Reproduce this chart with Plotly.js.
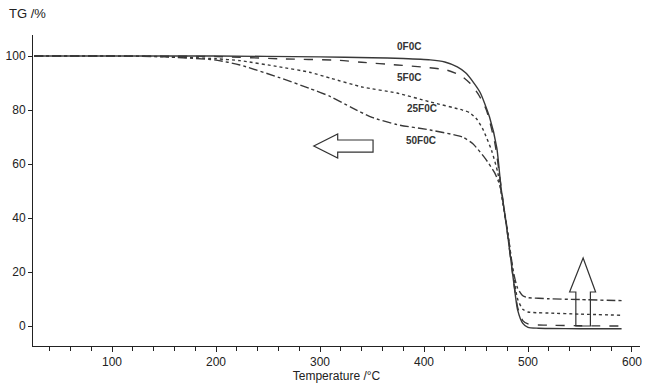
<!DOCTYPE html>
<html>
<head>
<meta charset="utf-8">
<script src="https://cdn.plot.ly/plotly-3.0.1.min.js"></script>
<style>html,body{margin:0;padding:0;background:#fff;}#chart{width:651px;height:386px;}</style>
</head>
<body>
<div id="chart"></div>
<script>
// Temperature (°C) and TG (%) for each sample
const t0 = [25, 100, 200, 300, 350, 380, 406, 420, 432, 440, 448, 454, 463, 470, 474, 480, 486, 490, 495, 500, 510, 520, 550, 590];
const tg0 = [100, 100, 100, 99.7, 99.4, 99.1, 98.6, 97.8, 96, 93.8, 90, 86.5, 77.4, 66, 51.5, 35, 17, 6, 1, -0.5, -0.8, -0.9, -1, -1];

const t5 = [25, 100, 200, 261, 319, 340, 374, 400, 422, 436, 444, 452, 460, 468, 474, 480, 486, 490, 495, 500, 510, 520, 550, 590];
const tg5 = [100, 100, 99.8, 99, 98.4, 97.7, 96.7, 95.9, 94.8, 92.6, 90, 86, 80, 68, 52, 35, 17, 7, 2, 0.8, 0.4, 0.3, 0.1, 0];

const t25 = [25, 100, 150, 200, 223, 261, 290, 310, 341, 374, 406, 437, 444, 451, 457, 465, 471, 476, 480, 486, 490, 495, 500, 510, 520, 550, 590];
const tg25 = [100, 100, 99.8, 99, 98.3, 96, 94, 91.8, 88.5, 86.3, 83, 80, 79, 76.5, 72.6, 65, 56.7, 45, 36, 19, 10, 6.2, 5.2, 4.9, 4.8, 4.4, 4];

const t50 = [25, 100, 150, 200, 223, 261, 290, 310, 330, 350, 374, 406, 437, 447, 459, 468, 473, 480, 486, 490, 495, 500, 510, 520, 550, 590];
const tg50 = [100, 100, 99.7, 98.5, 96.7, 92, 88, 85, 81, 77.3, 74.6, 72.6, 70, 67.5, 62, 56.7, 52, 36, 20, 14, 11.2, 10.5, 10.3, 10.1, 9.8, 9.4];

const names = ["0F0C", "5F0C", "25F0C", "50F0C"];
const labelX = [386, 386, 398, 397];
const labelY = [103.7, 92.2, 80.7, 68.9];

const xTicks = [100, 200, 300, 400, 500, 600];
const yTicks = [0, 20, 40, 60, 80, 100];

const lineColor = "#383838";
const series = [[t0, tg0, "solid"], [t5, tg5, "dash"], [t25, tg25, "dot"], [t50, tg50, "dashdot"]];
const traces = series.map((s, i) => ({
  x: s[0], y: s[1], type: "scatter", mode: "lines", name: names[i],
  line: {color: lineColor, width: 1.4, dash: s[2], shape: "spline", smoothing: 0.6},
  hoverinfo: "skip"
}));

const annotations = names.map((n, i) => ({
  x: labelX[i], y: labelY[i], xref: "x", yref: "y", text: "<b>" + n + "</b>",
  showarrow: false, font: {family: "Liberation Sans, Arial, sans-serif", size: 10, color: "#333"}
}));
annotations.push({
  xref: "paper", yref: "paper", x: -0.043, y: 1.07, xanchor: "left", yanchor: "middle",
  text: "TG /%", showarrow: false, font: {family: "Liberation Sans, Arial, sans-serif", size: 13, color: "#222"}
});

const arrowStyle = {type: "path", xref: "x", yref: "y", line: {color: "#333", width: 1.2}, fillcolor: "rgba(0,0,0,0)"};
const shapes = [
  Object.assign({}, arrowStyle, {path: "M 294 66.7 L 317 71.1 L 317 68.9 L 351 68.9 L 351 64.4 L 317 64.4 L 317 62.2 Z"}),
  Object.assign({}, arrowStyle, {path: "M 553 25.2 L 540 12.6 L 546 12.6 L 546 0 L 560 0 L 560 12.6 L 565 12.6 Z"})
];

const layout = {
  width: 651, height: 386,
  margin: {l: 33, r: 11, t: 35, b: 40},
  paper_bgcolor: "#fff", plot_bgcolor: "#fff",
  showlegend: false,
  font: {family: "Liberation Sans, Arial, sans-serif", size: 12, color: "#222"},
  xaxis: {
    range: [24, 607.7], tickvals: xTicks, ticks: "outside", ticklen: 5, tickcolor: "#222",
    showline: true, linecolor: "#222", linewidth: 1, showgrid: false, zeroline: false,
    minor: {dtick: 20, ticks: "outside", ticklen: 4, tickcolor: "#222", showgrid: false},
    title: {text: "Temperature /°C", standoff: 0, font: {size: 12}}
  },
  yaxis: {
    range: [-7.4, 107.8], tickvals: yTicks, ticks: "outside", ticklen: 4, tickcolor: "#222",
    showline: true, linecolor: "#222", linewidth: 1, showgrid: false, zeroline: false
  },
  annotations: annotations,
  shapes: shapes
};

Plotly.newPlot("chart", traces, layout, {displayModeBar: false, staticPlot: true});
</script>
</body>
</html>
